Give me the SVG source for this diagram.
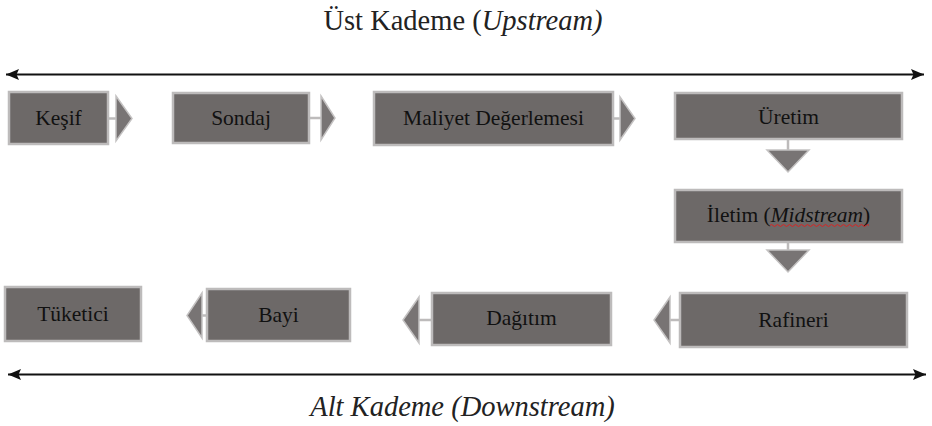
<svg xmlns="http://www.w3.org/2000/svg" width="932" height="426" viewBox="0 0 932 426">
  <style>
    .box{fill:#6d6968;stroke:#bdbbbb;stroke-width:2.5}
    .tri{fill:#787474;stroke:#c4c2c2;stroke-width:1.5}
    .stub{stroke:#bdbbbb;stroke-width:2.5;fill:none}
    .axis{stroke:#111;stroke-width:2;fill:none}
  </style>
  <defs>
    <marker id="ah" markerUnits="userSpaceOnUse" markerWidth="14" markerHeight="12" viewBox="0 0 14 12" refX="13" refY="6" orient="auto-start-reverse">
      <path d="M0,0.5 L13,6 L0,11.5 L2.5,6 Z" fill="#111"/>
    </marker>
  </defs>
  <rect width="932" height="426" fill="#fff"/>

  <g font-family="Liberation Serif, Times New Roman, serif" font-size="28.5" fill="#222" text-anchor="middle">
    <text x="463" y="30">Üst Kademe (<tspan font-style="italic">Upstream)</tspan></text>
    <text x="462.5" y="416" font-style="italic">Alt Kademe (Downstream)</text>
  </g>

  <g id="connectors">
    <line class="axis" x1="6" y1="74.5" x2="924" y2="74.5" marker-start="url(#ah)" marker-end="url(#ah)"/>
    <line class="axis" x1="8" y1="374.5" x2="926" y2="374.5" marker-start="url(#ah)" marker-end="url(#ah)"/>
    <line class="stub" x1="108" y1="118.5" x2="117" y2="118.5"/>
    <polygon class="tri" points="116,96 132,118.5 116,141"/>
    <line class="stub" x1="309" y1="118" x2="322" y2="118"/>
    <polygon class="tri" points="321,96 335,118 321,140"/>
    <line class="stub" x1="613" y1="118.5" x2="621" y2="118.5"/>
    <polygon class="tri" points="620,97 635,118.5 620,140"/>
    <line class="stub" x1="788" y1="139" x2="788" y2="151"/>
    <polygon class="tri" points="767,150 809,150 788,172"/>
    <line class="stub" x1="788" y1="242" x2="788" y2="251"/>
    <polygon class="tri" points="767,250 809,250 788,272"/>
    <line class="stub" x1="201" y1="315.5" x2="207" y2="315.5"/>
    <polygon class="tri" points="202,293 187,315.5 202,338"/>
    <line class="stub" x1="418" y1="320" x2="432" y2="320"/>
    <polygon class="tri" points="419,297 403,320 419,343"/>
    <line class="stub" x1="669" y1="320" x2="680" y2="320"/>
    <polygon class="tri" points="670,297 654,320 670,343"/>
  </g>

  <g font-family="Liberation Serif, Times New Roman, serif" font-size="21.5" fill="#111" text-anchor="middle">
    <g id="kesif"><rect class="box" x="9" y="92" width="99" height="52"/><text x="58.5" y="125">Keşif</text></g>
    <g id="sondaj"><rect class="box" x="173" y="93" width="136" height="50"/><text x="241" y="125">Sondaj</text></g>
    <g id="maliyet"><rect class="box" x="374" y="92" width="239" height="53"/><text x="493.5" y="125">Maliyet Değerlemesi</text></g>
    <g id="uretim"><rect class="box" x="675" y="93" width="227" height="46"/><text x="788.5" y="124">Üretim</text></g>
    <g id="iletim"><rect class="box" x="675" y="190" width="227" height="52"/><text x="788.5" y="222">İletim (<tspan font-style="italic">Midstream</tspan>)</text>
      <path d="M770,225.5 q1.5,-2 3,0 t3,0 t3,0 t3,0 t3,0 t3,0 t3,0 t3,0 t3,0 t3,0 t3,0 t3,0 t3,0 t3,0 t3,0 t3,0 t3,0 t3,0 t3,0 t3,0 t3,0 t3,0 t3,0 t3,0 t3,0 t3,0 t3,0 t3,0 t3,0 t3,0 t3,0 t3,0 t3,0" fill="none" stroke="#d22" stroke-width="1"/>
    </g>
    <g id="tuketici"><rect class="box" x="5" y="287" width="136" height="54"/><text x="73" y="321">Tüketici</text></g>
    <g id="bayi"><rect class="box" x="207" y="289" width="143" height="52"/><text x="278.5" y="322">Bayi</text></g>
    <g id="dagitim"><rect class="box" x="432" y="293" width="179" height="52"/><text x="521.5" y="325">Dağıtım</text></g>
    <g id="rafineri"><rect class="box" x="680" y="293" width="227" height="54"/><text x="793.5" y="327">Rafineri</text></g>
  </g>
</svg>
